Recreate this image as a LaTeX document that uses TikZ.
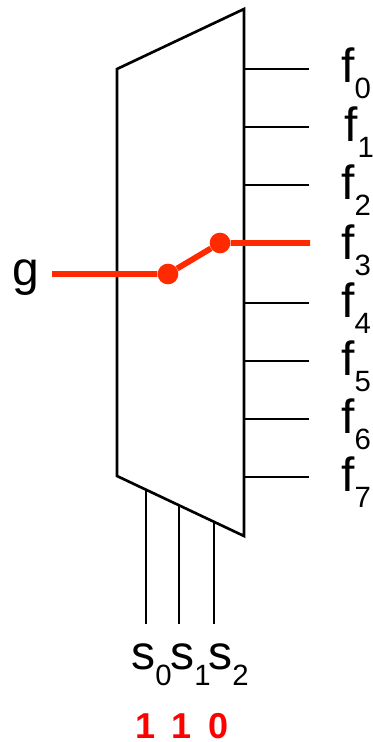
\documentclass[tikz,border=0pt]{standalone}
\usepackage{fontspec}
\setmainfont{Liberation Sans}
\usepackage{xcolor}
\definecolor{muxRed}{HTML}{FF2A00}
\definecolor{bitRed}{HTML}{FF0000}
\newcommand{\lowidx}[1]{\raisebox{-12pt}{\fontsize{22}{22}\selectfont #1}}
\tikzset{
  wire/.style={line width=2pt, draw=black, line join=miter},
  redwire/.style={line width=4.4pt, draw=muxRed},
  joint/.style={circle, fill=muxRed, inner sep=0pt, minimum size=15.5pt},
  biglabel/.style={anchor=base west, inner sep=0pt, font=\fontsize{36}{36}\selectfont},
  bitlabel/.style={anchor=base, inner sep=0pt, text=bitRed, font=\fontsize{27}{27}\selectfont\bfseries}
}
\begin{document}
\begin{tikzpicture}[x=0.75pt,y=-0.75pt]
  \useasboundingbox (0,0) rectangle (372,742);
  % mux body
  \draw[wire] (117,69) -- (244,9) -- (244,536) -- (117,476) -- cycle;
  % outputs
  \foreach \name/\yy/\xx in {0/69/341,1/127/344,2/185/341,3/245/341,4/303/341,5/361/341,6/419/341,7/477/341}{
    \coordinate (out\name) at (244,\yy);
    \coordinate (end\name) at (309,\yy);
    \draw[wire] (out\name) -- (end\name);
    \node[biglabel] (f\name) at (\xx,\yy+14) {f\lowidx{\name}};
  }
  % selects
  \foreach \name/\xx/\yy/\lx in {0/146/489/131,1/179/505/170,2/214/522/208}{
    \coordinate (top\name) at (\xx,\yy);
    \coordinate (bot\name) at (\xx,624);
    \draw[wire] (top\name) -- (bot\name);
    \node[biglabel] (s\name) at (\lx,669) {s\lowidx{\name}};
  }
  \node[bitlabel] (bit0) at (146,738) {1};
  \node[bitlabel] (bit1) at (182,738) {1};
  \node[bitlabel] (bit2) at (219,738) {0};
  % selected path
  \node[biglabel] (g) at (12,285) {g};
  \coordinate (in) at (52,274);
  \coordinate (sel3) at (310,243);
  \node[joint] (ja) at (168,274) {};
  \node[joint] (jb) at (220,243) {};
  \draw[redwire] (in) -- (ja) -- (jb) -- (sel3);
\end{tikzpicture}
\end{document}
